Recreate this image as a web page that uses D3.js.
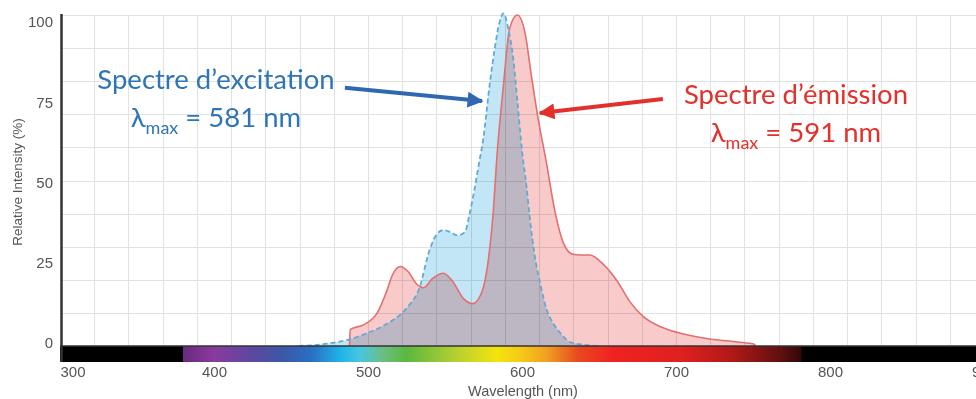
<!DOCTYPE html>
<html>
<head>
<meta charset="utf-8">
<script src="https://cdn.jsdelivr.net/npm/d3@7"></script>
<style>
  body { margin: 0; background: #fff; }
  svg { display: block; }
  .tick text { font-family: "Liberation Sans", Arial, sans-serif; font-size: 15px; fill: #555; }
</style>
</head>
<body>
<div id="chart"></div>
<script>
// chart values
var xTicks = [300, 400, 500, 600, 700, 800, 900];
var yTicks = [0, 25, 50, 75, 100];

var exWl  = [455, 470, 480, 488, 500, 508, 515, 521, 527, 533, 540, 545, 549, 553, 558, 563, 566, 569, 572, 575, 579, 582, 585, 588, 591, 594, 597, 600, 603, 605, 608, 612, 616, 620, 623, 627, 631, 640, 650];
var exVal = [0, 0.5, 1.2, 2, 4, 5.6, 7.5, 9.5, 12.5, 17, 29, 34, 35, 34.5, 33.4, 34.5, 40, 47, 55, 63, 79, 89, 97, 100.5, 96, 88, 74, 59, 48, 39, 28, 18.5, 11, 7, 5, 2.8, 1.2, 0.4, 0];

var emWl  = [488, 488.5, 497, 506, 512, 516, 521, 526, 532, 536, 542, 549, 555, 562, 568, 574, 578, 581, 584, 588, 592, 597, 602, 606, 610, 616, 621, 627, 633, 638, 644, 653, 662, 670, 679, 690, 705, 722, 740, 751, 751.5];
var emVal = [0, 5, 6.4, 10, 16.4, 21.6, 24, 22.5, 18.5, 17.6, 20.4, 22, 19.5, 14.3, 12.8, 16.4, 25.5, 38.6, 59, 79, 96, 100, 94.5, 82, 70, 55, 41.6, 31, 27.7, 27.5, 27.5, 24.6, 19.5, 13.4, 8.8, 5.8, 3.6, 2.1, 1.2, 0.5, 0];

var exPeak = 581;
var emPeak = 591;

var width = 976;
var height = 399;

var x = d3.scaleLinear().domain([300, 900]).range([60, 984]);
var y = d3.scaleLinear().domain([0, 100]).range([346, 15]);
// tick labels sit a little inside the plot range in the original
var yLab = d3.scaleLinear().domain([0, 100]).range([343, 22]);

var svg = d3.select('#chart')
  .append('svg')
  .attr('width', width)
  .attr('height', height);

var defs = svg.append('defs');

// visible spectrum strip under the axis
var spec = defs.append('linearGradient')
  .attr('id', 'spec')
  .attr('gradientUnits', 'userSpaceOnUse')
  .attr('x1', x(300)).attr('x2', x(900))
  .attr('y1', 0).attr('y2', 0);

var stops = [
  [300, '#000'], [380, '#000'], [380, '#6a2a80'], [400, '#8a3a9e'], [425, '#5c48a0'],
  [445, '#3a58a8'], [464, '#2a70c4'], [482, '#1eb4e8'], [495, '#48c6e0'], [510, '#6cbe80'],
  [525, '#5ab840'], [558, '#b8d030'], [584, '#f4e40c'], [600, '#f5c818'], [616, '#f0a020'],
  [636, '#e84a20'], [659, '#f02222'], [703, '#e02020'], [737, '#b01818'], [768, '#601010'],
  [781, '#300808'], [782, '#000'], [900, '#000']
];
spec.selectAll('stop')
  .data(stops)
  .enter().append('stop')
  .attr('offset', function(d) { return (d[0] - 300) / 600; })
  .attr('stop-color', function(d) { return d[1]; });

function arrowHead(id, color) {
  defs.append('marker')
    .attr('id', id)
    .attr('viewBox', '0 0 10 10')
    .attr('refX', 9).attr('refY', 5)
    .attr('markerWidth', 4).attr('markerHeight', 4)
    .attr('markerUnits', 'strokeWidth')
    .attr('orient', 'auto')
    .append('path')
    .attr('d', 'M0,0 L10,5 L0,10 z')
    .attr('fill', color);
}
arrowHead('headBlue', '#2f68b0');
arrowHead('headRed', '#e3302b');

// grid
var grid = svg.append('g').attr('stroke', '#e2e2e2').attr('stroke-width', 1);
grid.selectAll('.h')
  .data(d3.range(0, 101, 10))
  .enter().append('line')
  .attr('x1', x(300)).attr('x2', width)
  .attr('y1', function(d) { return Math.round(y(d)) + 0.5; })
  .attr('y2', function(d) { return Math.round(y(d)) + 0.5; });
grid.selectAll('.v')
  .data(d3.range(1, 28).map(function(k) { return 300 + k * 600 / 27; }))
  .enter().append('line')
  .attr('y1', y(100)).attr('y2', y(0))
  .attr('x1', function(d) { return Math.round(x(d)) + 0.5; })
  .attr('x2', function(d) { return Math.round(x(d)) + 0.5; });

var exData = exWl.map(function(w, i) { return [w, exVal[i]]; });
var emData = emWl.map(function(w, i) { return [w, emVal[i]]; });

var area = d3.area()
  .x(function(d) { return x(d[0]); })
  .y0(y(0))
  .y1(function(d) { return y(d[1]); })
  .curve(d3.curveMonotoneX);

var line = d3.line()
  .x(function(d) { return x(d[0]); })
  .y(function(d) { return y(d[1]); })
  .curve(d3.curveMonotoneX);

svg.append('path')
  .datum(exData)
  .attr('d', area)
  .attr('fill', '#c2e6f6')
  .style('mix-blend-mode', 'multiply');

svg.append('path')
  .datum(emData)
  .attr('d', area)
  .attr('fill', '#f9caca')
  .style('mix-blend-mode', 'multiply');

svg.append('path')
  .datum(emData)
  .attr('d', line)
  .attr('fill', 'none')
  .attr('stroke', '#e46f6f')
  .attr('stroke-width', 1.6);

svg.append('path')
  .datum(exData)
  .attr('d', line)
  .attr('fill', 'none')
  .attr('stroke', '#62aad6')
  .attr('stroke-width', 1.8)
  .attr('stroke-dasharray', '5,3');

// spectrum strip + axis lines
svg.append('rect')
  .attr('x', x(300)).attr('y', y(0))
  .attr('width', width - x(300)).attr('height', 16)
  .attr('fill', 'url(#spec)');

svg.append('line')
  .attr('x1', x(300)).attr('x2', width)
  .attr('y1', y(0)).attr('y2', y(0))
  .attr('stroke', '#333').attr('stroke-width', 1.5);

svg.append('line')
  .attr('x1', 61.5).attr('x2', 61.5)
  .attr('y1', y(100) - 1).attr('y2', y(0) + 16)
  .attr('stroke', '#333').attr('stroke-width', 2.5);

// axes (labels only)
var yAxis = svg.append('g')
  .attr('transform', 'translate(53,0)')
  .call(d3.axisLeft(yLab).tickValues(yTicks).tickSize(0).tickPadding(0));
yAxis.select('.domain').remove();

var xAxis = svg.append('g')
  .attr('transform', 'translate(0,' + (y(0) + 16) + ')')
  .call(d3.axisBottom(x).tickValues(xTicks).tickSize(0).tickPadding(4));
xAxis.select('.domain').remove();
xAxis.selectAll('text')
  .attr('text-anchor', function(d, i) { return i === 0 ? 'start' : 'middle'; });

svg.append('text')
  .attr('x', 523).attr('y', 396)
  .attr('text-anchor', 'middle')
  .style('font-family', '"Liberation Sans", Arial, sans-serif')
  .style('font-size', '14.5px')
  .attr('fill', '#555')
  .text('Wavelength (nm)');

svg.append('text')
  .attr('transform', 'translate(22,182) rotate(-90)')
  .attr('text-anchor', 'middle')
  .style('font-family', '"Liberation Sans", Arial, sans-serif')
  .style('font-size', '13.5px')
  .attr('fill', '#555')
  .text('Relative Intensity (%)');

// annotations
function note(cx, by, color, title, peak) {
  var g = svg.append('g')
    .attr('fill', color)
    .style('font-family', 'Lato, "Open Sans", sans-serif');
  g.append('text')
    .attr('x', cx).attr('y', by)
    .attr('text-anchor', 'middle')
    .style('font-size', '27.5px')
    .text(title);
  var t = g.append('text')
    .attr('x', cx).attr('y', by + 38)
    .attr('text-anchor', 'middle')
    .style('font-size', '27.5px');
  t.append('tspan').text('λ');
  t.append('tspan').attr('dy', 7).style('font-size', '18px').text('max');
  t.append('tspan').attr('dy', -7).text(' = ' + peak + ' nm');
}
note(216, 89, '#2e75b6', 'Spectre d’excitation', exPeak);
note(796, 104, '#e3302b', 'Spectre d’émission', emPeak);

svg.append('line')
  .attr('x1', x(485)).attr('y1', y(78))
  .attr('x2', x(574)).attr('y2', y(74))
  .attr('stroke', '#2f68b0').attr('stroke-width', 4)
  .attr('marker-end', 'url(#headBlue)');

svg.append('line')
  .attr('x1', x(691.5)).attr('y1', y(74.6))
  .attr('x2', x(611.7)).attr('y2', y(70.4))
  .attr('stroke', '#e3302b').attr('stroke-width', 4)
  .attr('marker-end', 'url(#headRed)');
</script>
</body>
</html>
